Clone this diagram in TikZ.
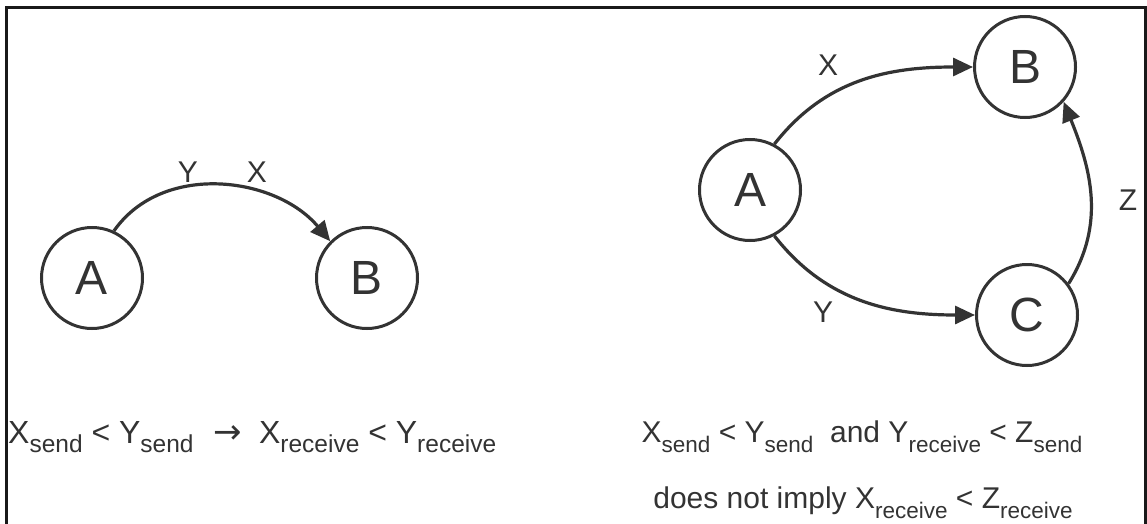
\documentclass[tikz,border=0pt]{standalone}
\usepackage{fontspec}
\setmainfont{Liberation Sans}
\newfontfamily\arrowfont{DejaVu Sans}
\usetikzlibrary{arrows.meta}
\definecolor{ink}{HTML}{333333}
\newcommand{\sbs}[1]{\raisebox{-0.32em}{\fontsize{22.5}{22.5}\selectfont #1}}
\newcommand{\sbl}[1]{\raisebox{-0.3em}{\fontsize{24.5}{24.5}\selectfont #1}}
\begin{document}
\begin{tikzpicture}[x=1pt,y=-1pt,
  state/.style={circle,draw=ink,line width=3pt,minimum size=101pt,inner sep=0pt,text=ink,font=\fontsize{48}{48}\selectfont},
  edge/.style={draw=ink,line width=3.2pt,-{Triangle[length=20pt,width=18pt]}},
  elabel/.style={text=ink,font=\fontsize{30}{30}\selectfont,inner sep=0pt},
  formula/.style={text=ink,font=\fontsize{30}{30}\selectfont,inner sep=0pt},
  lformula/.style={text=ink,font=\fontsize{32}{32}\selectfont,inner sep=0pt}]
\useasboundingbox (0,0) rectangle (1147,524);
\draw[line width=3pt,black!90] (6.5,530) -- (6.5,7.5) -- (1145.5,7.5) -- (1145.5,530);
% left
\node[state] (la) at (92,278) {A};
\node[state] (lb) at (367,278) {B};
\draw[edge] (la.65) to[out=55,in=130] (lb.135);
\node[elabel] (ly) at (188,172) {Y};
\node[elabel] (lx) at (257,172) {X};
\node[lformula,anchor=west] (lf) at (8,437) {X\sbl{send} < Y\sbl{send}\hspace{20pt}{\arrowfont\fontsize{34}{34}\selectfont →}\hspace{17pt}X\sbl{receive} < Y\sbl{receive}};
% right
\node[state] (ra) at (750,190) {A};
\node[state] (rb) at (1025,67) {B};
\node[state] (rc) at (1027,315) {C};
\draw[edge] (ra.62) to[out=52,in=180] (rb.west);
\draw[edge] (ra.-62) to[out=-52,in=180] (rc.west);
\draw[edge] (rc.37) to[out=58,in=-68] (rb.-42);
\node[elabel] (rx) at (828,65) {X};
\node[elabel] (ry) at (823,312) {Y};
\node[elabel] (rz) at (1128,200) {Z};
\node[formula] (rf1) at (862,437) {X\sbs{send} < Y\sbs{send}\ \ and Y\sbs{receive} < Z\sbs{send}};
\node[formula] (rf2) at (863,503) {does not imply X\sbs{receive} < Z\sbs{receive}};
\end{tikzpicture}
\end{document}
